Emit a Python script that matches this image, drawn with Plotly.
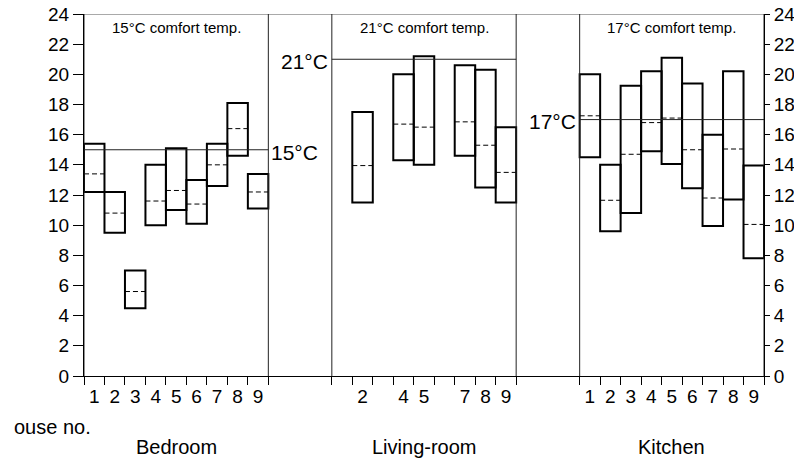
import plotly.graph_objects as go

# ---- data ----
houses = [1, 2, 3, 4, 5, 6, 7, 8, 9]
rooms = ["Bedroom", "Living-room", "Kitchen"]
comfort = [15, 21, 17]

bed_houses = [1, 2, 3, 4, 5, 6, 7, 8, 9]
bed_min = [12.2, 9.5, 4.5, 10.0, 11.0, 10.1, 12.6, 14.6, 11.1]
bed_max = [15.4, 12.2, 7.0, 14.0, 15.1, 13.0, 15.4, 18.1, 13.4]
bed_mean = [13.4, 10.8, 5.6, 11.6, 12.3, 11.4, 14.0, 16.4, 12.2]

liv_houses = [2, 4, 5, 7, 8, 9]
liv_min = [11.5, 14.3, 14.0, 14.6, 12.5, 11.5]
liv_max = [17.5, 20.0, 21.2, 20.6, 20.3, 16.5]
liv_mean = [13.95, 16.7, 16.5, 16.85, 15.3, 13.5]

kit_houses = [1, 2, 3, 4, 5, 6, 7, 8, 9]
kit_min = [14.5, 9.6, 10.8, 14.9, 14.05, 12.45, 9.95, 11.7, 7.8]
kit_max = [20.0, 14.0, 19.25, 20.2, 21.1, 19.4, 16.0, 20.2, 13.95]
kit_mean = [17.25, 11.65, 14.7, 16.8, 17.1, 15.0, 11.8, 15.05, 10.05]

y_ticks = [0, 2, 4, 6, 8, 10, 12, 14, 16, 18, 20, 22, 24]

# ---- layout constants ----
offsets = [0, 12.1, 24.2]
panel_w = 9
x_max = 33.2
FONT = "Liberation Sans, Arial, Helvetica, sans-serif"

room_data = [
    (bed_houses, bed_min, bed_max, bed_mean),
    (liv_houses, liv_min, liv_max, liv_mean),
    (kit_houses, kit_min, kit_max, kit_mean),
]

fig = go.Figure()
tickvals, ticktext, minorvals = [], [], []
for off, (hs, mn, mx, me) in zip(offsets, room_data):
    xs = [off + h - 0.5 for h in hs]
    fig.add_trace(go.Bar(
        x=xs, base=mn, y=[b - a for a, b in zip(mn, mx)], width=1,
        marker=dict(color="rgba(0,0,0,0)", line=dict(color="black", width=2)),
        showlegend=False, hoverinfo="skip"))
    lx, ly = [], []
    for x, m in zip(xs, me):
        lx += [x - 0.5, x + 0.5, None]
        ly += [m, m, None]
    fig.add_trace(go.Scatter(x=lx, y=ly, mode="lines",
                             line=dict(color="black", width=1, dash="5px,3px"),
                             showlegend=False, hoverinfo="skip"))
    tickvals += xs
    ticktext += [str(h) for h in hs]
    minorvals += [off + k for k in range(panel_w + 1)]

# hidden trace for right axis
fig.add_trace(go.Scatter(x=[None], y=[None], yaxis="y2", showlegend=False))

shapes = []
# top line
shapes.append(dict(type="line", xref="x", yref="y", x0=0, x1=x_max, y0=24, y1=24,
                   line=dict(color="#555", width=1)))
# panel boundaries
for off in offsets:
    for xb in (off, off + panel_w):
        shapes.append(dict(type="line", xref="x", yref="y", x0=xb, x1=xb, y0=0, y1=24,
                           line=dict(color="#222", width=1)))
# comfort lines
for off, c in zip(offsets, comfort):
    shapes.append(dict(type="line", xref="x", yref="y", x0=off, x1=off + panel_w,
                       y0=c, y1=c, line=dict(color="#222", width=1)))

annotations = []
for off, c in zip(offsets, comfort):
    annotations.append(dict(x=off + panel_w / 2, y=23.1, xref="x", yref="y",
                            text=f"{c}°C comfort temp.", showarrow=False,
                            font=dict(size=15, color="black", family=FONT)))
annotations.append(dict(x=offsets[0] + panel_w + 0.05, y=14.85, xref="x", yref="y",
                        text=f"{comfort[0]}°C", showarrow=False, xanchor="left",
                        font=dict(size=21, color="black", family=FONT)))
annotations.append(dict(x=offsets[1] - 0.1, y=20.85, xref="x", yref="y",
                        text=f"{comfort[1]}°C", showarrow=False, xanchor="right",
                        font=dict(size=21, color="black", family=FONT)))
annotations.append(dict(x=offsets[2] - 0.1, y=16.85, xref="x", yref="y",
                        text=f"{comfort[2]}°C", showarrow=False, xanchor="right",
                        font=dict(size=21, color="black", family=FONT)))
for off, r in zip(offsets, rooms):
    annotations.append(dict(x=off + panel_w / 2, y=-0.196, xref="x", yref="paper",
                            text=r, showarrow=False, yanchor="middle",
                            font=dict(size=20, color="black", family=FONT)))
annotations.append(dict(x=-0.106, y=-0.141, xref="paper", yref="paper",
                        text="ouse no.", showarrow=False, xanchor="left", yanchor="middle",
                        font=dict(size=20, color="black", family=FONT)))

fig.update_layout(
    width=794, height=459, autosize=False,
    margin=dict(l=84, r=30, t=14, b=83, pad=0, autoexpand=False),
    paper_bgcolor="white", plot_bgcolor="white",
    barmode="overlay",
    font=dict(family=FONT, color="black", size=19),
    shapes=shapes, annotations=annotations,
    xaxis=dict(range=[0, x_max], showgrid=False, zeroline=False, automargin=False,
               showline=True, linecolor="black", linewidth=1,
               tickmode="array", tickvals=tickvals, ticktext=ticktext,
               ticks="outside", ticklen=3, tickcolor="rgba(0,0,0,0)",
               tickfont=dict(size=19, family=FONT, color="black"),
               minor=dict(tickmode="array", tickvals=minorvals, ticks="outside",
                          ticklen=8, tickwidth=1, tickcolor="black", showgrid=False)),
    yaxis=dict(range=[0, 24], showgrid=False, zeroline=False, automargin=False,
               showline=True, linecolor="black", linewidth=1,
               tickmode="array", tickvals=y_ticks,
               ticks="outside", ticklen=10, tickcolor="black", tickwidth=1,
               tickfont=dict(size=19, family=FONT, color="black")),
    yaxis2=dict(range=[0, 24], overlaying="y", side="right", showgrid=False,
                zeroline=False, showline=True, linecolor="black", linewidth=1,
                automargin=False,
                tickmode="array", tickvals=y_ticks,
                ticks="outside", ticklen=5, tickcolor="black", tickwidth=1,
                tickfont=dict(size=19, family=FONT, color="black")),
)

fig.write_html("out.html")
